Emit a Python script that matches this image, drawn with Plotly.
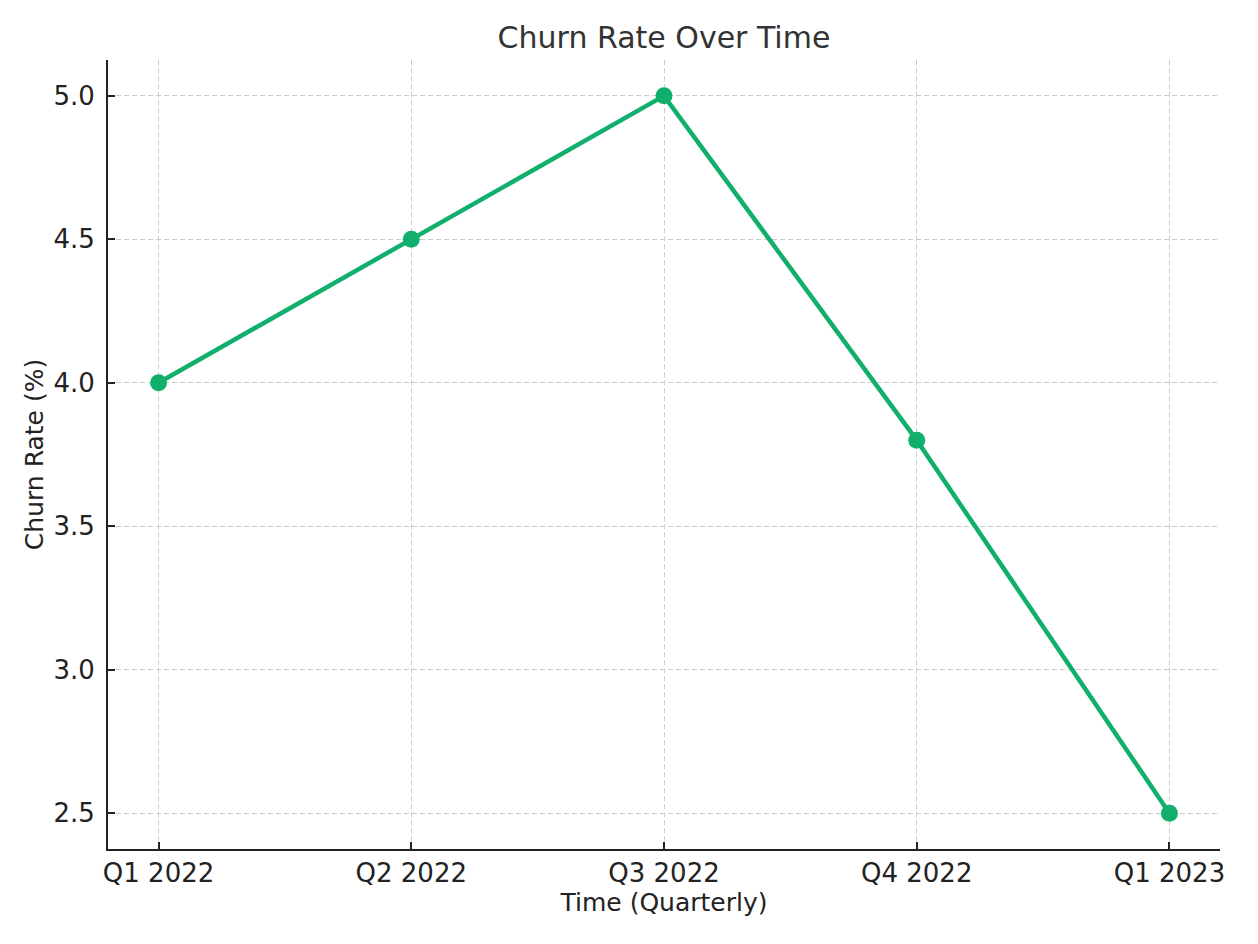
import plotly.graph_objects as go

quarters = ["Q1 2022", "Q2 2022", "Q3 2022", "Q4 2022", "Q1 2023"]
churn_rate = [4.0, 4.5, 5.0, 3.8, 2.5]
y_ticks = [2.5, 3.0, 3.5, 4.0, 4.5, 5.0]

fig = go.Figure()
fig.add_trace(go.Scatter(
    x=list(range(len(quarters))), y=churn_rate, mode="lines+markers",
    line=dict(color="#10b06c", width=4.5),
    marker=dict(color="#10b06c", size=17),
))

font = "DejaVu Sans"
fig.update_layout(
    width=1258, height=944,
    margin=dict(l=108, r=38, t=60, b=95),
    paper_bgcolor="white", plot_bgcolor="white",
    showlegend=False,
    title=dict(text="Churn Rate Over Time", x=0.5, xref="paper", xanchor="center",
               y=1 - 37 / 944, yanchor="middle",
               font=dict(family=font, size=30, color="#333333")),
    font=dict(family=font, size=26, color="#222222"),
)
fig.update_xaxes(
    range=[-0.2, 4.2], tickmode="array", tickvals=list(range(len(quarters))),
    ticktext=quarters, showline=True, linecolor="#222222", linewidth=2,
    ticks="inside", ticklen=7, tickwidth=1.5, tickcolor="#222222",
    tickfont=dict(family=font, size=26, color="#222222"),
    showgrid=True, gridcolor="#cccccc", griddash="5px,3px", gridwidth=1,
    zeroline=False, mirror=False,
    title=dict(text="Time (Quarterly)", font=dict(family=font, size=25, color="#222222"), standoff=6),
)
fig.update_yaxes(
    range=[2.375, 5.125], tickmode="array", tickvals=y_ticks,
    ticktext=[f"{v:.1f}" for v in y_ticks], showline=True, linecolor="#222222", linewidth=2,
    ticks="inside", ticklen=7, tickwidth=1.5, tickcolor="#222222",
    tickfont=dict(family=font, size=26, color="#222222"),
    ticklabelstandoff=6,
    showgrid=True, gridcolor="#cccccc", griddash="5px,3px", gridwidth=1,
    zeroline=False, mirror=False,
    title=dict(text="Churn Rate (%)", font=dict(family=font, size=25, color="#222222"), standoff=3),
)

fig.write_html("out.html")
